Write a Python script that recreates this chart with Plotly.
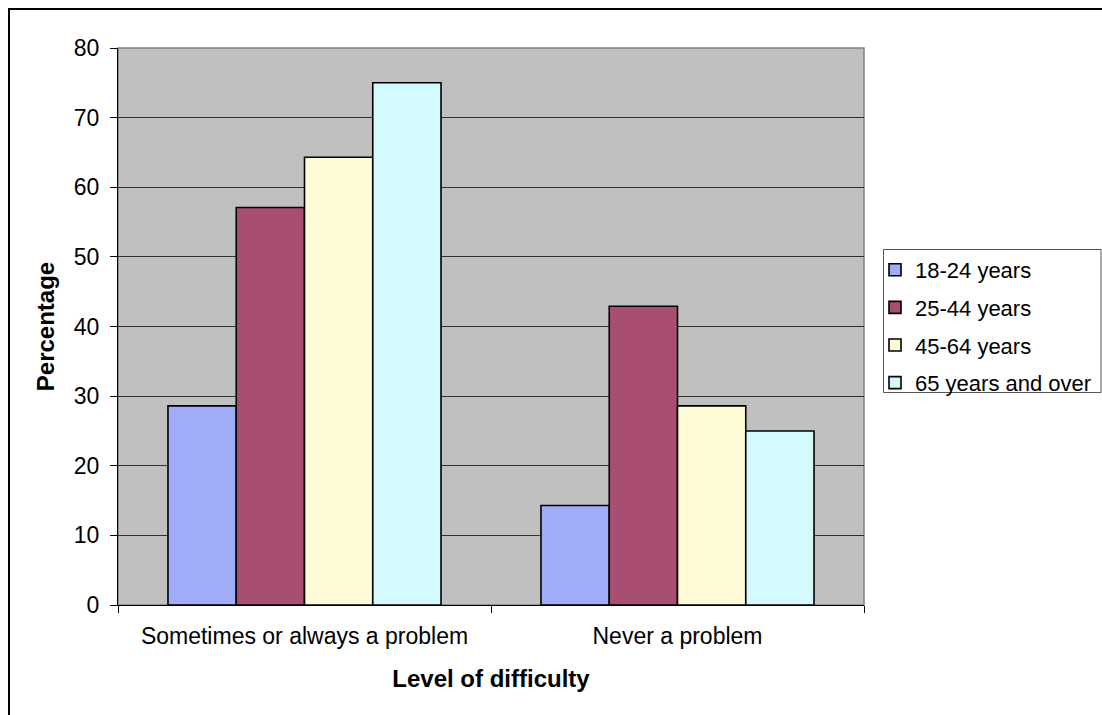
import plotly.graph_objects as go

categories = ["Sometimes or always a problem", "Never a problem"]
series_names = ["18-24 years", "25-44 years", "45-64 years", "65 years and over"]
values_18_24 = [28.6, 14.3]
values_25_44 = [57.1, 42.9]
values_45_64 = [64.3, 28.6]
values_65_over = [75.0, 25.0]
y_ticks = [0, 10, 20, 30, 40, 50, 60, 70, 80]

colors = ["#A0ACF8", "#A84E73", "#FFFBD6", "#D3FAFC"]
all_values = [values_18_24, values_25_44, values_45_64, values_65_over]

FONT = "Liberation Sans, Arial, sans-serif"

fig = go.Figure()
for name, vals, col in zip(series_names, all_values, colors):
    fig.add_trace(go.Bar(
        x=categories, y=vals, name=name, legendgroup=name,
        marker=dict(color=col, line=dict(color="black", width=1.6)),
    ))

L, R, T, B = 118, 864, 48, 605
W, H = 1102, 715
pw, ph = R - L, B - T

def px(x):
    return (x - L) / pw

def py(y):
    return (B - y) / ph

fig.update_layout(
    width=W + 16, height=H, autosize=False,
    margin=dict(l=L, r=W + 16 - R, t=T, b=H - B, pad=0),
    paper_bgcolor="white",
    plot_bgcolor="#C0C0C0",
    barmode="group",
    bargap=0.268,
    bargroupgap=0,
    font=dict(family=FONT, size=23, color="black"),
    showlegend=True,
    legend=dict(
        x=px(875), y=py(249), xanchor="left", yanchor="top",
        bgcolor="rgba(0,0,0,0)", borderwidth=0,
        font=dict(family=FONT, size=22, color="black"),
        traceorder="grouped", tracegroupgap=6,
    ),
    xaxis=dict(
        type="category",
        showline=True, linecolor="black", linewidth=1,
        ticks="outside", tickson="boundaries", ticklen=7, tickcolor="black",
        tickfont=dict(family=FONT, size=23),
        ticklabelstandoff=10,
        title=dict(text="<b>Level of difficulty</b>", font=dict(family=FONT, size=24), standoff=22),
    ),
    yaxis=dict(
        range=[0, 80], tickvals=y_ticks, ticktext=[str(v) for v in y_ticks],
        showline=True, linecolor="black", linewidth=1,
        ticks="outside", ticklen=7, tickcolor="black",
        ticklabelstandoff=6,
        showgrid=True, gridcolor="#303030", gridwidth=1,
        zeroline=False,
        tickfont=dict(family=FONT, size=23),
        title=dict(text="<b>Percentage</b>", font=dict(family=FONT, size=24), standoff=12),
    ),
)

# plot-area border (gray)
fig.add_shape(type="rect", xref="paper", yref="paper", x0=0, y0=0, x1=1, y1=1,
              line=dict(color="#808080", width=1.5), layer="below", fillcolor="rgba(0,0,0,0)")
# legend box
fig.add_shape(type="rect", xref="paper", yref="paper",
              x0=px(883.5), y0=py(249.5), x1=px(1101), y1=py(392.5),
              line=dict(color="#555555", width=1), fillcolor="white", layer="above")
# outer chart frame
fig.add_shape(type="rect", xref="paper", yref="paper",
              x0=px(9), y0=py(9), x1=px(1160), y1=py(760),
              line=dict(color="black", width=2), fillcolor="rgba(0,0,0,0)")

fig.write_html(
    "out.html",
    config={"responsive": False, "displayModeBar": False},
    post_script="document.body.style.margin='0';document.body.style.overflow='hidden';"
                "document.documentElement.style.overflow='hidden';",
)
